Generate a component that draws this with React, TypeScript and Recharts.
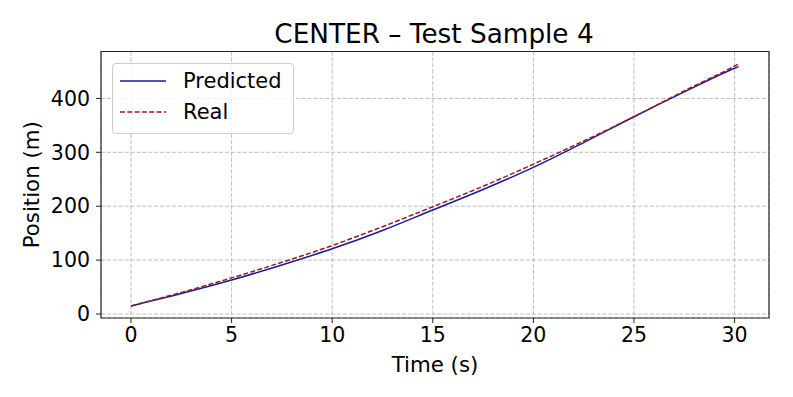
import React from "react";
import {
    LineChart,
    Line,
    XAxis,
    YAxis,
    CartesianGrid,
    Legend,
    ReferenceArea,
} from "recharts";

// time (s) and position (m)
const timeS = [0, 2.5, 5, 7.5, 10, 12.5, 15, 17.5, 20, 22.5, 25, 27.5, 30, 30.2];
const predictedPos = [15, 38, 63, 91, 121, 155, 193, 231, 272, 318, 366, 412, 456, 459];
const realPos = [15, 40, 67, 96, 127, 162, 199, 237, 278, 321, 366, 414, 460, 464];

const xTicks = [0, 5, 10, 15, 20, 25, 30];
const yTicks = [0, 100, 200, 300, 400];

const FONT = "'DejaVu Sans', sans-serif";

const data = timeS.map((t, i) => ({
    t,
    Predicted: predictedPos[i],
    Real: realPos[i],
}));

const LegendBox = (props: any) => {
    const items = props.payload || [];
    return (
        <div
            style={{
                boxSizing: "border-box",
                width: 182,
                height: 71,
                border: "1px solid #cccccc",
                borderRadius: 4,
                background: "rgba(255,255,255,0.8)",
                paddingTop: 1,
                fontFamily: FONT,
                fontSize: 21,
                color: "#000",
            }}
        >
            {items.map((it: any) => (
                <div
                    key={it.value}
                    style={{display: "flex", alignItems: "center", height: 31.6, paddingLeft: 7}}
                >
                    <svg width={46} height={6} style={{marginRight: 17}}>
                        <line
                            x1={0}
                            y1={3}
                            x2={46}
                            y2={3}
                            stroke={it.color}
                            strokeWidth={1.5}
                            strokeDasharray={it.payload?.strokeDasharray}
                        />
                    </svg>
                    <span>{it.value}</span>
                </div>
            ))}
        </div>
    );
};

export default function App() {
    return (
        <div style={{position: "absolute", left: 0, top: 0, width: 793, height: 397, background: "#fff"}}>
            <svg width={793} height={60} style={{position: "absolute", left: 0, top: 0}}>
                <text x={434} y={43.3} textAnchor="middle" fontFamily={FONT} fontSize={26.3} fill="#000">
                    CENTER – Test Sample 4
                </text>
            </svg>
            <LineChart
                width={793}
                height={397}
                data={data}
                margin={{top: 51.5, right: 24, bottom: 25, left: 41}}
                style={{position: "absolute", left: 0, top: 0}}
            >
                <CartesianGrid stroke="#bdbdbd" strokeDasharray="4.1 1.8" strokeWidth={1} />
                <XAxis
                    dataKey="t"
                    type="number"
                    domain={[-1.49, 31.71]}
                    ticks={xTicks}
                    height={54}
                    axisLine={false}
                    tickSize={5}
                    tickMargin={4}
                    tickLine={{stroke: "#222"}}
                    tick={{fill: "#000", fontSize: 20.5, fontFamily: FONT}}
                    label={{
                        value: "Time (s)",
                        position: "insideBottom",
                        offset: 0,
                        fill: "#000",
                        fontSize: 21.3,
                        fontFamily: FONT,
                    }}
                />
                <YAxis
                    type="number"
                    domain={[-7.4, 487]}
                    ticks={yTicks}
                    width={60}
                    axisLine={false}
                    tickSize={5}
                    tickMargin={6}
                    tickLine={{stroke: "#222"}}
                    tick={{fill: "#000", fontSize: 20.5, fontFamily: FONT}}
                    label={{
                        value: "Position (m)",
                        angle: -90,
                        position: "center",
                        dx: -39.5,
                        fill: "#000",
                        fontSize: 21.3,
                        fontFamily: FONT,
                    }}
                />
                <ReferenceArea
                    x1={-1.49}
                    x2={31.71}
                    y1={-7.4}
                    y2={487}
                    fill="none"
                    stroke="#262626"
                    strokeWidth={1.2}
                    ifOverflow="visible"
                />
                <Line
                    type="monotone"
                    dataKey="Predicted"
                    stroke="#1a1a9c"
                    strokeWidth={1.5}
                    dot={false}
                    isAnimationActive={false}
                />
                <Line
                    type="monotone"
                    dataKey="Real"
                    stroke="#a01c1c"
                    strokeWidth={1.5}
                    strokeDasharray="5 2.3"
                    dot={false}
                    isAnimationActive={false}
                />
                <Legend
                    layout="horizontal"
                    verticalAlign="middle"
                    align="center"
                    content={LegendBox}
                    wrapperStyle={{left: 112, top: 63, width: 182, height: 71}}
                />
            </LineChart>
        </div>
    );
}
